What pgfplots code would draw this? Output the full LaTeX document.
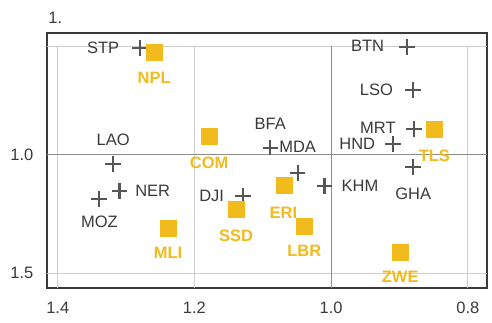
\documentclass[border=0pt]{standalone}
\usepackage{pgfplots}
\pgfplotsset{compat=1.18}
\usepackage{pgfplotstable}
\usepackage{fontspec}
\setmainfont{Liberation Sans}
\definecolor{myyellow}{HTML}{F2BB1D}
\definecolor{plusgray}{HTML}{555555}
\definecolor{txtgray}{HTML}{3A3A3A}
\definecolor{gridlight}{HTML}{CDCDCD}
\definecolor{griddark}{HTML}{8C8C8C}
\newcommand{\lblfont}{\fontsize{16.5}{18}\selectfont}
\tikzset{
  pl/.style={inner sep=0pt, font=\lblfont, text=txtgray},
  sl/.style={inner sep=0pt, font=\lblfont\bfseries, text=myyellow},
}

\pgfplotstableread{
x y
1.2795 0.549
1.319 1.038
1.3098 1.151
1.340 1.185
1.129 1.173
1.089 0.969
1.049 1.075
1.0097 1.131
0.880 1.052
0.9095 0.954
0.879 0.891
0.880 0.725
0.889 0.5425
}\plusdata

\pgfplotstableread{
x y
1.259 0.565
1.1785 0.923
1.2385 1.3126
1.139 1.232
1.0687 1.131
1.0394 1.303
0.899 1.413
0.849 0.891
}\sqdata

\begin{document}
\begin{tikzpicture}
\begin{axis}[
  name=ax,
  scale only axis, width=440pt, height=255pt,
  x dir=reverse, y dir=reverse,
  xmin=0.772, xmax=1.4157, ymin=0.4846, ymax=1.562,
  xtick={0.8,1.0,1.2,1.4}, ytick={1.0,1.5},
  xticklabels={0.8,1.0,1.2,1.4}, yticklabels={1.0,1.5},
  major tick length=0pt,
  axis line style={draw=txtgray, line width=1.5pt},
  tick label style={font=\lblfont, text=txtgray, inner sep=0pt},
  xticklabel style={yshift=-14pt},
  yticklabel style={xshift=-13.5pt},
  clip=false,
]
% grid
\draw[gridlight, line width=1pt] (axis cs:1.4157,0.541) -- (axis cs:0.772,0.541);
\draw[gridlight, line width=1pt] (axis cs:1.4157,1.5) -- (axis cs:0.772,1.5);
\draw[gridlight, line width=1pt] (axis cs:1.4,0.541) -- (axis cs:1.4,1.562);
\draw[gridlight, line width=1pt] (axis cs:1.2,0.541) -- (axis cs:1.2,1.562);
\draw[gridlight, line width=1pt] (axis cs:0.8,0.541) -- (axis cs:0.8,1.562);
\draw[griddark, line width=1pt] (axis cs:1.4157,1.0) -- (axis cs:0.772,1.0);
\draw[griddark, line width=1pt] (axis cs:1.0,0.541) -- (axis cs:1.0,1.562);

\addplot[only marks, mark=+, mark size=7.8pt, color=plusgray,
  mark options={line width=2.3pt}]
  table[x=x, y=y] {\plusdata};

\addplot[only marks, mark=square*, mark size=8pt, color=myyellow,
  mark options={fill=myyellow, draw=myyellow, line width=0pt}]
  table[x=x, y=y] {\sqdata};

% labels (plus series)
\node[pl, anchor=east] at ([xshift=-20.7pt]axis cs:1.2795,0.549) {STP};
\node[pl] at ([yshift=24pt]axis cs:1.319,1.038) {LAO};
\node[pl, anchor=west] at ([xshift=15.7pt]axis cs:1.3098,1.151) {NER};
\node[pl] at ([xshift=0.6pt,yshift=-23pt]axis cs:1.340,1.185) {MOZ};
\node[pl, anchor=east] at ([xshift=-18.7pt]axis cs:1.129,1.173) {DJI};
\node[pl] at ([yshift=24pt]axis cs:1.089,0.969) {BFA};
\node[pl] at ([yshift=26pt]axis cs:1.049,1.075) {MDA};
\node[pl, anchor=west] at ([xshift=17pt]axis cs:1.0097,1.131) {KHM};
\node[pl] at ([yshift=-27pt]axis cs:0.880,1.052) {GHA};
\node[pl, anchor=east] at ([xshift=-17.7pt]axis cs:0.9095,0.954) {HND};
\node[pl, anchor=east] at ([xshift=-18pt,yshift=1pt]axis cs:0.879,0.891) {MRT};
\node[pl, anchor=east] at ([xshift=-20pt]axis cs:0.880,0.725) {LSO};
\node[pl, anchor=east] at ([xshift=-22.7pt,yshift=1pt]axis cs:0.889,0.5425) {BTN};
% labels (square series)
\node[sl] at ([yshift=-26pt]axis cs:1.259,0.565) {NPL};
\node[sl] at ([yshift=-26pt]axis cs:1.1785,0.923) {COM};
\node[sl] at ([yshift=-24pt]axis cs:1.2385,1.3126) {MLI};
\node[sl] at ([yshift=-26pt]axis cs:1.139,1.232) {SSD};
\node[sl] at ([xshift=-0.7pt,yshift=-27pt]axis cs:1.0687,1.131) {ERI};
\node[sl] at ([yshift=-24pt]axis cs:1.0394,1.303) {LBR};
\node[sl] at ([yshift=-24pt]axis cs:0.899,1.413) {ZWE};
\node[sl] at ([yshift=-27pt]axis cs:0.849,0.891) {TLS};
\end{axis}
\node[anchor=west, inner sep=0pt, font=\lblfont, text=txtgray] at ([shift={(1.3pt,14.7pt)}]ax.north west) {1.};
\pgfresetboundingbox
\path ([shift={(-47pt,-34pt)}]ax.south west) rectangle ([shift={(5pt,33pt)}]ax.north east);
\end{tikzpicture}
\end{document}
